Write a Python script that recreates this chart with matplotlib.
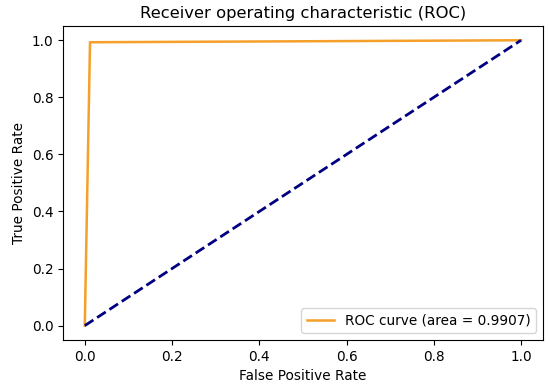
import numpy as np
from matplotlib import pyplot as plt

# ROC points
fpr = [0.0, 0.012, 1.0]
tpr = [0.0, 0.993, 1.0]
roc_auc = 0.9907
diag = [0.0, 1.0]

plt.rcParams['font.size'] = 9.8
fig = plt.figure(figsize=(5.5, 3.88), dpi=100)
plt.subplots_adjust(left=0.1145, right=0.987, top=0.933, bottom=0.124)
plt.plot(fpr, tpr, color='#f5a02a', lw=1.8, label='ROC curve (area = %0.4f)' % roc_auc)
plt.plot(diag, diag, color='navy', lw=2, linestyle='--')
plt.xlabel('False Positive Rate')
plt.ylabel('True Positive Rate')
plt.title('Receiver operating characteristic (ROC)', fontsize=11.8)
plt.legend(loc='lower right')
plt.savefig('out.png')
